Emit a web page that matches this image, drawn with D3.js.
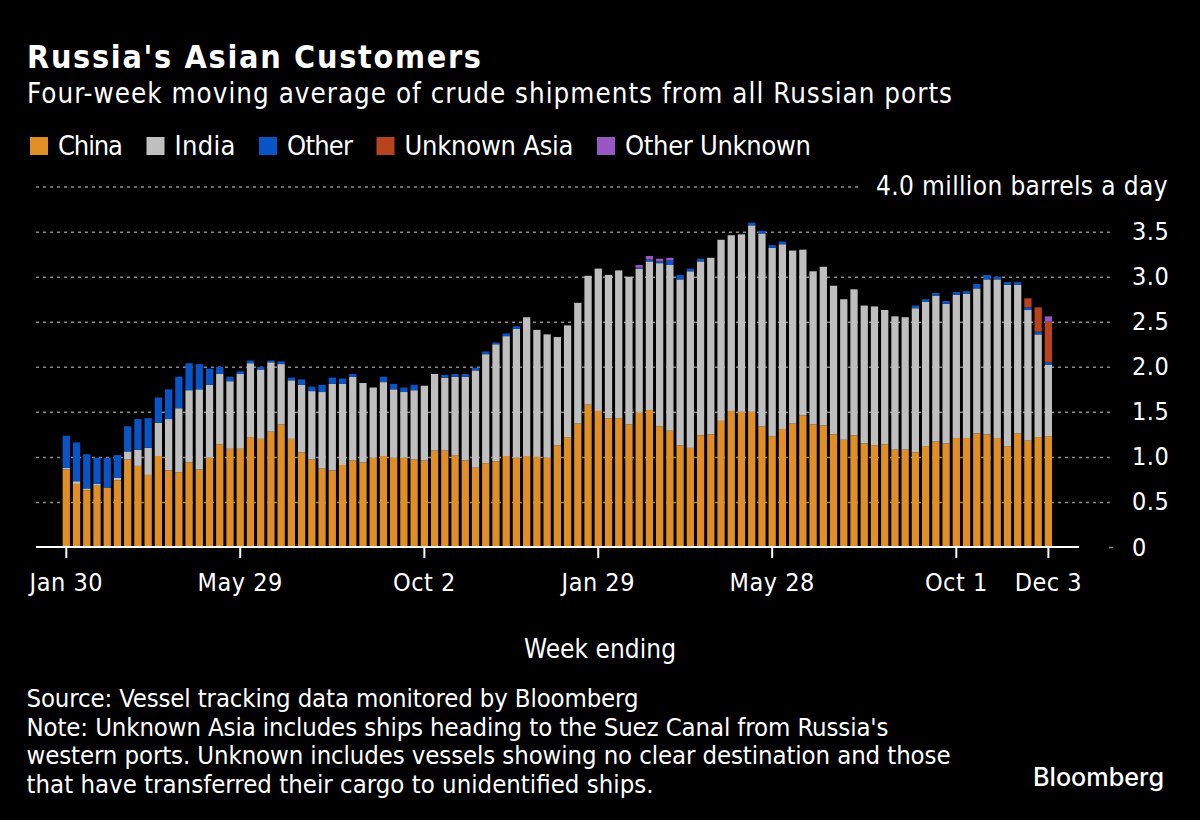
<!DOCTYPE html>
<html>
<head>
<meta charset="utf-8">
<script src="https://d3js.org/d3.v7.min.js"></script>
<style>
  html, body { margin: 0; background: #000; }
  text { font-family: "DejaVu Sans Condensed", "DejaVu Sans", sans-serif; fill: #fff; }
  .tick text { font-size: 25px; letter-spacing: 0.5px; }
</style>
</head>
<body>
<svg id="chart" width="1200" height="820"></svg>
<script>
  // week ending dates, Jan 30 2022 .. Dec 3 2023
  var weeks = [
    "2022-01-30","2022-02-06","2022-02-13","2022-02-20","2022-02-27","2022-03-06","2022-03-13","2022-03-20","2022-03-27",
    "2022-04-03","2022-04-10","2022-04-17","2022-04-24","2022-05-01","2022-05-08","2022-05-15","2022-05-22","2022-05-29",
    "2022-06-05","2022-06-12","2022-06-19","2022-06-26","2022-07-03","2022-07-10","2022-07-17","2022-07-24","2022-07-31",
    "2022-08-07","2022-08-14","2022-08-21","2022-08-28","2022-09-04","2022-09-11","2022-09-18","2022-09-25","2022-10-02",
    "2022-10-09","2022-10-16","2022-10-23","2022-10-30","2022-11-06","2022-11-13","2022-11-20","2022-11-27","2022-12-04",
    "2022-12-11","2022-12-18","2022-12-25","2023-01-01","2023-01-08","2023-01-15","2023-01-22","2023-01-29","2023-02-05",
    "2023-02-12","2023-02-19","2023-02-26","2023-03-05","2023-03-12","2023-03-19","2023-03-26","2023-04-02","2023-04-09",
    "2023-04-16","2023-04-23","2023-04-30","2023-05-07","2023-05-14","2023-05-21","2023-05-28","2023-06-04","2023-06-11",
    "2023-06-18","2023-06-25","2023-07-02","2023-07-09","2023-07-16","2023-07-23","2023-07-30","2023-08-06","2023-08-13",
    "2023-08-20","2023-08-27","2023-09-03","2023-09-10","2023-09-17","2023-09-24","2023-10-01","2023-10-08","2023-10-15",
    "2023-10-22","2023-10-29","2023-11-05","2023-11-12","2023-11-19","2023-11-26","2023-12-03"]

  var china = [
    .86,.70,.63,.68,.66,.74,.97,.90,.80,1.01,.85,.83,.94,.86,.99,1.14,1.09,1.09,1.22,1.20,1.28,1.36,1.20,1.05,.97,.87,.85,.91,.96,.94,.99,1.01,.99,
    .99,.97,.96,1.07,1.07,1.02,.96,.88,.93,.95,1.01,.99,1.01,1.00,.99,1.13,1.22,1.37,1.58,1.51,1.43,1.43,1.36,1.49,1.52,1.34,1.29,1.13,1.10,1.24,1.25,
    1.40,1.51,1.50,1.50,1.34,1.23,1.31,1.37,1.46,1.36,1.35,1.25,1.19,1.24,1.15,1.13,1.14,1.08,1.08,1.05,1.12,1.17,1.15,1.21,1.21,1.26,1.25,1.21,1.12,1.26,1.18,1.22,1.23]
  var india = [
    .02,.03,.02,.02,0,.03,.09,.18,.30,.37,.57,.71,.80,.89,.81,.78,.75,.83,.82,.77,.77,.67,.65,.75,.76,.85,.96,.90,.93,.88,.78,.82,.76,
    .73,.77,.83,.85,.81,.87,.93,1.08,1.21,1.30,1.33,1.43,1.54,1.41,1.37,1.20,1.24,1.34,1.43,1.58,1.59,1.64,1.64,1.60,1.65,1.81,1.84,1.84,1.96,1.93,1.96,
    2.01,1.95,1.97,2.07,2.14,2.09,2.05,1.92,1.84,1.70,1.76,1.65,1.56,1.62,1.53,1.54,1.49,1.48,1.47,1.60,1.60,1.62,1.55,1.59,1.60,1.61,1.72,1.76,1.79,1.65,1.45,1.14,.79]
  var other = [
    .355,.43,.38,.29,.33,.25,.28,.34,.33,.28,.33,.35,.30,.28,.18,.08,.05,.03,.03,.03,.02,.03,.03,.06,.05,.08,.07,.06,.03,0,0,.06,.06,
    .05,.06,0,0,.03,.03,.03,.03,.03,.02,.03,.03,0,0,0,0,0,0,0,0,0,0,0,.01,.02,.02,.05,.05,.03,.03,0,
    0,0,0,.03,.03,.03,.03,0,0,0,0,0,0,0,0,0,0,0,0,.03,.03,.03,.03,.03,.03,.05,.05,.03,.03,.03,.03,.03,.03]
  var unknownAsia = [
    0,0,0,0,0,0,0,0,0,0,0,0,0,0,0,0,0,0,0,0,0,0,0,0,0,0,0,0,0,0,0,0,0,
    0,0,0,0,0,0,0,0,0,0,0,0,0,0,0,0,0,0,0,0,0,0,0,0,0,0,0,0,0,0,0,
    0,0,0,0,0,0,0,0,0,0,0,0,0,0,0,0,0,0,0,0,0,0,0,0,0,0,0,0,0,0,.10,.27,.45]
  var otherUnknown = [
    0,0,0,0,0,0,0,0,0,0,0,0,0,0,0,0,0,0,0,0,0,0,0,0,0,0,0,0,0,0,0,0,0,
    0,0,0,0,0,0,0,0,0,0,0,0,0,0,0,0,0,0,0,0,0,0,0,.03,.04,.03,.03,0,0,0,0,
    0,0,0,0,0,0,0,0,0,0,0,0,0,0,0,0,0,0,0,0,0,0,0,0,0,0,0,0,0,0,0,0,.06]

  var seriesNames = ["China", "India", "Other", "Unknown Asia", "Other Unknown"]
  var seriesValues = [china, india, other, unknownAsia, otherUnknown]
  var seriesColors = ["#e08f26", "#bfbfbf", "#0a55c5", "#b8441d", "#9658c4"]

  var xTickDates = ["2022-01-30", "2022-05-29", "2022-10-02", "2023-01-29", "2023-05-28", "2023-10-01", "2023-12-03"]
  var xTickLabels = ["Jan 30", "May 29", "Oct 2", "Jan 29", "May 28", "Oct 1", "Dec 3"]
  var yTicks = [0, 0.5, 1, 1.5, 2, 2.5, 3, 3.5, 4]
  var noteLines = [
    "Source: Vessel tracking data monitored by Bloomberg",
    "Note: Unknown Asia includes ships heading to the Suez Canal from Russia's",
    "western ports. Unknown includes vessels showing no clear destination and those",
    "that have transferred their cargo to unidentified ships."]

  // widths the long lines are fitted to, the font here is not the original one
  var noteWidths = [612, 862, 924, 627]
  var legendWidths = [65, 61, 66, 169, 186]

  var svg = d3.select("#chart")
  svg.append("rect").attr("width", 1200).attr("height", 820).attr("fill", "#000")

  var x = d3.scaleBand().domain(weeks).range([61.2, 1053.5]).paddingInner(0.29).paddingOuter(0.145)
  var y = d3.scaleLinear().domain([0, 4]).range([547, 186.6])

  // gridlines and value labels
  var yAxis = svg.append("g")
    .attr("transform", "translate(36,0)")
    .call(d3.axisRight(y).tickValues(yTicks).tickSize(1077).tickPadding(19)
      .tickFormat(function(d) { return d === 0 ? "0" : d3.format(".1f")(d) }))
  yAxis.select(".domain").remove()
  yAxis.selectAll("line").attr("stroke", "#8a8a8a").attr("stroke-width", 1.5).attr("stroke-dasharray", "3 4")
  yAxis.selectAll("text").style("fill", "#fff").attr("dy", "0.32em")
  var topTick = yAxis.selectAll(".tick").filter(function(d) { return d === 4 })
  topTick.select("line").attr("x2", 826)
  topTick.select("text").attr("text-anchor", "end").attr("x", 1132).attr("font-size", 26).style("font-size", "26px")
    .attr("textLength", 292).attr("lengthAdjust", "spacing").text("4.0 million barrels a day")
  // only a stub of the zero line shows right of the date axis
  yAxis.selectAll(".tick").filter(function(d) { return d === 0 }).select("line")
    .attr("x1", 1073).attr("x2", 1077).attr("stroke-dasharray", null)

  // stacked bars
  var stack = d3.stack().keys(d3.range(seriesNames.length)).value(function(d, k) { return seriesValues[k][d] })
  var layers = stack(d3.range(weeks.length))
  svg.append("g").selectAll("g").data(layers).join("g")
    .attr("fill", function(d, i) { return seriesColors[i] })
    .selectAll("rect").data(function(d) { return d }).join("rect")
    .attr("x", function(d) { return x(weeks[d.data]) })
    .attr("width", x.bandwidth())
    .attr("y", function(d) { return y(d[1]) })
    .attr("height", function(d) { return y(d[0]) - y(d[1]) })

  // date axis
  var xAxis = svg.append("g")
    .attr("transform", "translate(0,547)")
    .call(d3.axisBottom(x).tickValues(xTickDates).tickSize(11).tickPadding(15)
      .tickFormat(function(d, i) { return xTickLabels[i] }))
  xAxis.select(".domain").attr("d", "M36,0H1079").attr("stroke", "#fff").attr("stroke-width", 2)
  xAxis.selectAll("line").attr("stroke", "#fff").attr("stroke-width", 2)
  xAxis.selectAll("text").style("fill", "#fff")

  // headline
  svg.append("text").attr("x", 27).attr("y", 68).attr("font-size", 32).attr("font-weight", 700)
    .attr("textLength", 454).attr("lengthAdjust", "spacing").text("Russia's Asian Customers")
  svg.append("text").attr("x", 27).attr("y", 103).attr("font-size", 27.5)
    .attr("textLength", 925).attr("lengthAdjust", "spacing")
    .text("Four-week moving average of crude shipments from all Russian ports")

  // legend, laid out left to right
  var legendX = 30
  seriesNames.forEach(function(name, i) {
    svg.append("rect").attr("x", legendX).attr("y", 137).attr("width", 18).attr("height", 18).attr("fill", seriesColors[i])
    svg.append("text").attr("x", legendX + 28).attr("y", 155).attr("font-size", 27)
      .attr("textLength", legendWidths[i]).attr("lengthAdjust", "spacing").text(name)
    legendX += 28 + legendWidths[i] + 23.5
  })

  svg.append("text").attr("x", 600).attr("y", 658).attr("text-anchor", "middle").attr("font-size", 26)
    .attr("textLength", 152).attr("lengthAdjust", "spacing").text("Week ending")

  svg.selectAll(".note").data(noteLines).join("text").attr("class", "note")
    .attr("x", 26.5).attr("y", function(d, i) { return 707 + i * 28.5 }).attr("font-size", 25.5)
    .attr("textLength", function(d, i) { return noteWidths[i] }).attr("lengthAdjust", "spacing")
    .text(function(d) { return d })

  svg.append("text").attr("x", 1033).attr("y", 786).attr("font-size", 25).attr("font-weight", 500)
    .style("font-family", "Inter, sans-serif")
    .attr("textLength", 131).attr("lengthAdjust", "spacingAndGlyphs").text("Bloomberg")
</script>
</body>
</html>
